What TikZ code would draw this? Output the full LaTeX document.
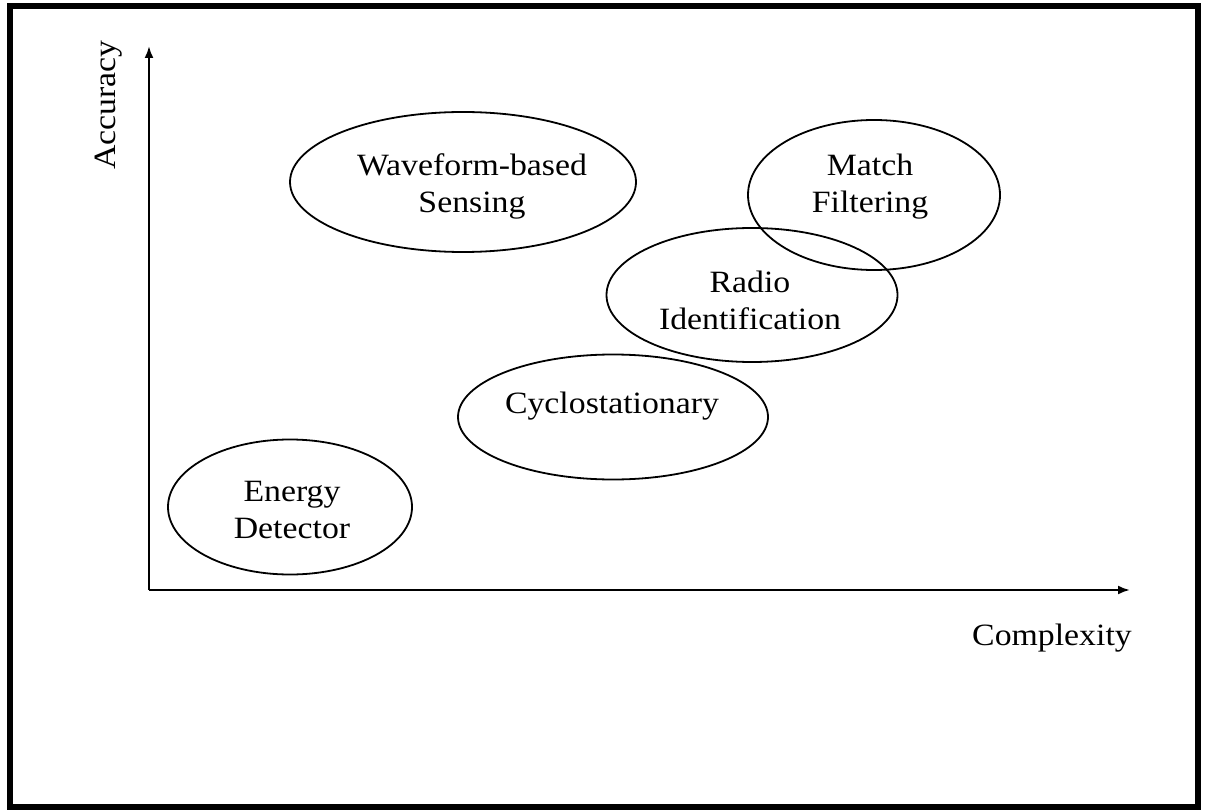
\documentclass[tikz,border=0pt]{standalone}
\usepackage{fontspec}
\setmainfont[FakeStretch=1.09]{Liberation Serif}
\usetikzlibrary{shapes.geometric,arrows.meta}
\begin{document}
\begin{tikzpicture}[x=1pt,y=-1pt,
  blob/.style={draw,ellipse,line width=1.8pt,inner sep=0pt},
  lbl/.style={font=\fontsize{31}{37}\selectfont,align=center,inner sep=0pt},
  axis/.style={line width=2.2pt,-{Latex[length=12pt,width=9pt]}}]
\useasboundingbox (0,0) rectangle (1209,810);
\draw[line width=6pt] (10,6) rectangle (1198,807);
% axes
\coordinate (O) at (149,590);
\coordinate (ytip) at (149,46);
\coordinate (xtip) at (1130,590);
\draw[axis] (O) -- (ytip);
\draw[axis] (O) -- (xtip);
\node[lbl,rotate=90] (acc) at (109,105) {Accuracy};
\node[lbl,anchor=base] (cx) at (1052,645) {Complexity};
% ellipses
\node[blob,minimum width=346pt,minimum height=140pt] (wf) at (463,182) {};
\node[blob,minimum width=252pt,minimum height=150pt] (mf) at (874,195) {};
\node[blob,minimum width=291pt,minimum height=134pt] (ri) at (752,295) {};
\node[blob,minimum width=310pt,minimum height=125pt] (cy) at (613,417) {};
\node[blob,minimum width=244pt,minimum height=135pt] (ed) at (290,507) {};
% labels
\node[lbl] (wft) at (472,186) {Waveform-based\\Sensing};
\node[lbl] (mft) at (870,187) {Match\\Filtering};
\node[lbl] (rit) at (750,300) {Radio\\Identification};
\node[lbl] (cyt) at (612,406) {Cyclostationary};
\node[lbl] (edt) at (292,510) {Energy\\Detector};
\end{tikzpicture}
\end{document}
